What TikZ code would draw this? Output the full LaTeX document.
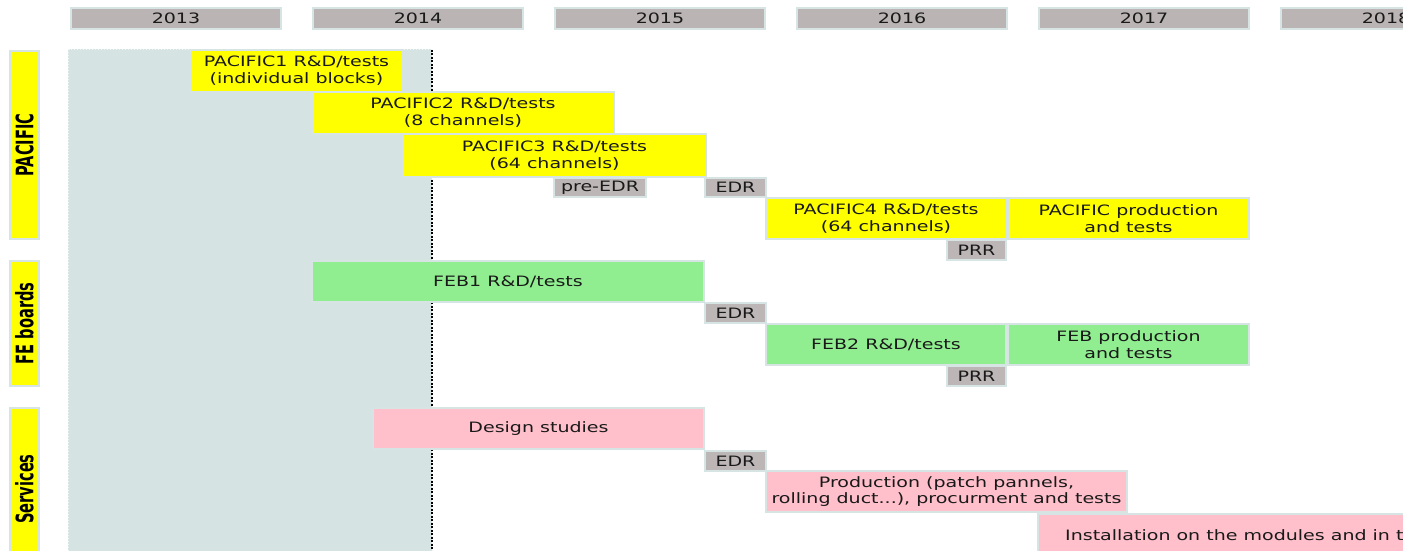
\documentclass[tikz,border=0pt]{standalone}
\usepackage{fontspec}
\setmainfont{DejaVu Sans}[FakeStretch=1.33]
\newfontfamily\labfont{DejaVu Sans}
\definecolor{yearfill}{RGB}{186,180,180}
\definecolor{msfill}{RGB}{188,182,182}
\definecolor{edgec}{RGB}{214,228,228}
\definecolor{shadec}{RGB}{214,227,227}
\definecolor{pyel}{RGB}{255,255,0}
\definecolor{pgreen}{RGB}{144,238,144}
\definecolor{ppink}{RGB}{255,192,203}
\definecolor{txt}{RGB}{25,25,25}
\tikzset{
  gbase/.style={draw=edgec, line width=2.5pt, inner sep=0pt, outer sep=0pt, text=txt, align=center, font=\fontsize{14.3}{16.8}\selectfont},
  yearbox/.style={gbase, fill=yearfill},
  msbox/.style={gbase, fill=msfill},
  pacbox/.style={gbase, fill=pyel},
  febbox/.style={gbase, fill=pgreen},
  srvbox/.style={gbase, fill=ppink},
  lanebar/.style={gbase, fill=pyel},
  lanetext/.style={rotate=90, inner sep=0pt, text=black, font=\labfont\bfseries\fontsize{14.6}{16}\selectfont},
  plaintext/.style={inner sep=0pt, text=txt, font=\fontsize{14.3}{16.8}\selectfont},
  todayline/.style={line width=2pt, dash pattern=on 2pt off 1.5pt, black},
}
% #1 name, #2 style, #3 x1, #4 y1, #5 x2, #6 y2 (fill edges, px), #7 text
\newcommand\gbox[7]{\node[#2, minimum width={#5-#3+2}, minimum height={#6-#4+2}] (#1) at ({(#3+#5)/2},{(#4+#6)/2}) {#7};}
\begin{document}
\begin{tikzpicture}[x=1pt,y=-1pt]
\useasboundingbox (0,0) rectangle (1403,551);
\clip (0,0) rectangle (1403,551);
% past region and today line
\fill[shadec] (68,49) rectangle (432,551);
\draw[white!60!shadec, line width=1pt, dotted] (68.5,551) -- (68.5,49.5) -- (432,49.5);
\draw[todayline] (432,50) -- (432,551);
% year headers
\gbox{y2013}{yearbox}{72}{9}{280}{28}{2013}
\gbox{y2014}{yearbox}{314}{9}{522}{28}{2014}
\gbox{y2015}{yearbox}{556}{9}{764}{28}{2015}
\gbox{y2016}{yearbox}{798}{9}{1006}{28}{2016}
\gbox{y2017}{yearbox}{1040}{9}{1248}{28}{2017}
\gbox{y2018}{yearbox}{1282}{9}{1490}{28}{2018}
% lane bars
\gbox{pacbar}{lanebar}{11}{52}{38}{238}{}
\node[lanetext] (paclab) at (pacbar) {\scalebox{1}[1.65]{PACIFIC}};
\gbox{febbar}{lanebar}{11}{262}{38}{385}{}
\node[lanetext] (feblab) at (febbar) {\scalebox{1}[1.65]{FE boards}};
\gbox{srvbar}{lanebar}{11}{409}{38}{560}{}
\node[lanetext] (srvlab) at ([yshift=-4.5pt]srvbar.center) {\scalebox{1}[1.65]{Services}};
% PACIFIC
\gbox{p1}{pacbox}{192}{51}{401}{91}{PACIFIC1 R\&D/tests\\(individual blocks)}
\gbox{p2}{pacbox}{313}{93}{613}{133}{PACIFIC2 R\&D/tests\\(8 channels)}
\gbox{p3}{pacbox}{404}{135}{705}{176}{PACIFIC3 R\&D/tests\\(64 channels)}
\gbox{pedr0}{msbox}{555}{179}{645}{196}{pre-EDR}
\gbox{pedr}{msbox}{706}{179}{765}{196}{EDR}
\gbox{p4}{pacbox}{767}{199}{1005}{238}{PACIFIC4 R\&D/tests\\(64 channels)}
\gbox{pprod}{pacbox}{1009}{199}{1248}{238}{PACIFIC production\\and tests}
\gbox{pprr}{msbox}{948}{241}{1005}{259}{PRR}
% FE boards
\gbox{f1}{febbox}{313}{262}{703}{301}{FEB1 R\&D/tests}
\gbox{fedr}{msbox}{706}{304}{765}{322}{EDR}
\gbox{f2}{febbox}{767}{325}{1005}{364}{FEB2 R\&D/tests}
\gbox{fprod}{febbox}{1009}{325}{1248}{364}{FEB production\\and tests}
\gbox{fprr}{msbox}{948}{367}{1005}{385}{PRR}
% Services
\gbox{sdes}{srvbox}{374}{409}{703}{448}{Design studies}
\gbox{sedr}{msbox}{706}{452}{765}{470}{EDR}
\gbox{sprod}{srvbox}{767}{472}{1126}{511}{Production (patch pannels,\\rolling duct...), procurment and tests}
\gbox{sinst}{srvbox}{1039}{515}{1430}{560}{}
\node[plaintext, anchor=west] (sinsttxt) at (1065,535) {Installation on the modules and in the};
\end{tikzpicture}
\end{document}
